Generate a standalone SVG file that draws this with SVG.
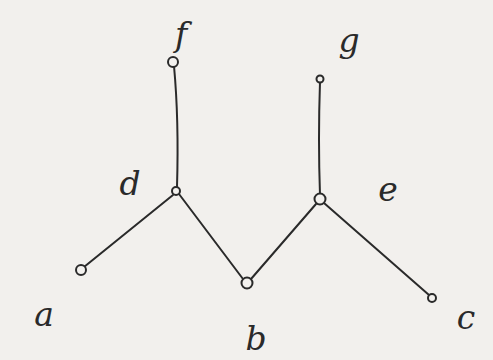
<svg xmlns="http://www.w3.org/2000/svg" width="493" height="360" viewBox="0 0 493 360">
<style>
.edge{stroke:#2a2a2a;stroke-width:2;fill:none;stroke-linecap:round}
.node{fill:#f3f1ee;stroke:#2a2a2a;stroke-width:2}
.lbl{font-family:"DejaVu Serif",serif;font-style:italic;font-size:33px;fill:#2a2a2a;text-anchor:middle}
</style>
<rect width="493" height="360" fill="#f2f0ed"/>
<g id="connectors">
<path class="edge" d="M174,66 Q179,120 177,187"/>
<path class="edge" d="M320,82 Q318,140 320,195"/>
<path class="edge" d="M173,195 L84,267"/>
<path class="edge" d="M179,194 L243,279"/>
<path class="edge" d="M251,279 L316,204"/>
<path class="edge" d="M324,203 L429,295"/>
</g>
<g id="node-f"><circle class="node" cx="173" cy="62" r="5"/><text class="lbl" x="181" y="46">f</text></g>
<g id="node-g"><circle class="node" cx="320" cy="79" r="3.5"/><text class="lbl" x="349" y="52">g</text></g>
<g id="node-d"><circle class="node" cx="176" cy="191" r="4"/><text class="lbl" x="130" y="195">d</text></g>
<g id="node-e"><circle class="node" cx="320" cy="199" r="5.5"/><text class="lbl" x="388" y="201">e</text></g>
<g id="node-a"><circle class="node" cx="81" cy="270" r="5"/><text class="lbl" x="44" y="326">a</text></g>
<g id="node-b"><circle class="node" cx="247" cy="283" r="5.5"/><text class="lbl" x="256" y="350">b</text></g>
<g id="node-c"><circle class="node" cx="432" cy="298" r="4"/><text class="lbl" x="466" y="329">c</text></g>
</svg>
